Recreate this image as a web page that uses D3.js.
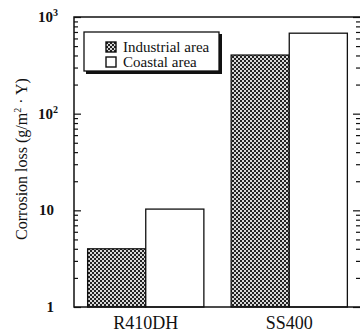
<!DOCTYPE html>
<html>
<head>
<meta charset="utf-8">
<script src="https://cdn.jsdelivr.net/npm/d3@7"></script>
<style>
  body { margin: 0; background: #fff; }
  svg text { font-family: "Liberation Serif", "Times New Roman", serif; }
</style>
</head>
<body>
<svg id="chart" width="360" height="332"></svg>
<script>
// --- data ---
const steels = ["R410DH", "SS400"];
const areas = ["Industrial area", "Coastal area"];
const industrialLoss = [4.0, 404];
const coastalLoss = [10.3, 680];
const majorTicks = [1, 10, 100, 1000];

// --- layout ---
const svg = d3.select("#chart");
const SERIF = "'Liberation Serif', 'Times New Roman', serif";
const x0 = 74, x1 = 362;
const yTop = 17, yBot = 307;

const x = d3.scaleBand().domain(steels).range([x0, x1 - 1]).paddingInner(0.19).paddingOuter(0.095);
const xs = d3.scaleBand().domain(areas).range([0, x.bandwidth()]);
const y = d3.scaleLog().domain([1, 1000]).range([yBot, yTop]);

// checker pattern for the industrial bars
const defs = svg.append("defs");
const pat = defs.append("pattern").attr("id", "checker")
  .attr("width", 4).attr("height", 4).attr("patternUnits", "userSpaceOnUse");
pat.append("rect").attr("width", 4).attr("height", 4).attr("fill", "#d8d8d8");
pat.append("rect").attr("width", 2).attr("height", 2).attr("fill", "#222");
pat.append("rect").attr("x", 2).attr("y", 2).attr("width", 2).attr("height", 2).attr("fill", "#222");

// bars
const rows = steels.map((s, i) => ({ steel: s, vals: [industrialLoss[i], coastalLoss[i]] }));
const g = svg.append("g");
rows.forEach(r => {
  r.vals.forEach((v, j) => {
    g.append("rect")
      .attr("x", x(r.steel) + xs(areas[j]))
      .attr("y", y(v))
      .attr("width", xs.bandwidth())
      .attr("height", y(1) - y(v))
      .attr("fill", j === 0 ? "url(#checker)" : "#fff")
      .attr("stroke", "#111")
      .attr("stroke-width", 1.3);
  });
});

// frame
svg.append("rect").attr("x", x0).attr("y", yTop).attr("width", x1 - x0).attr("height", yBot - yTop)
  .attr("fill", "none").attr("stroke", "#111").attr("stroke-width", 1.5);

// ticks (inward, left and right)
const minor = [];
for (let d = 1; d < 1000; d *= 10) for (let k = 2; k <= 9; k++) minor.push(d * k);
const leftAxis = d3.axisRight(y).tickValues(majorTicks).tickSize(7).tickFormat("");
const leftMinor = d3.axisRight(y).tickValues(minor).tickSize(4).tickFormat("");
[leftAxis, leftMinor].forEach(ax => {
  const a = svg.append("g").attr("transform", `translate(${x0},0)`).call(ax);
  a.select(".domain").remove();
  a.selectAll("line").attr("stroke", "#111").attr("stroke-width", 1.2);
});
const rightAxis = d3.axisLeft(y).tickValues(majorTicks).tickSize(9).tickFormat("");
const rightMinor = d3.axisLeft(y).tickValues(minor).tickSize(6).tickFormat("");
[rightAxis, rightMinor].forEach(ax => {
  const a = svg.append("g").attr("transform", `translate(${x1},0)`).call(ax);
  a.select(".domain").remove();
  a.selectAll("line").attr("stroke", "#111").attr("stroke-width", 1.2);
});

// y tick labels
const exps = { 1: null, 10: null, 100: "2", 1000: "3" };
majorTicks.forEach(t => {
  const txt = svg.append("text").attr("x", exps[t] ? 58 : 54).attr("y", y(t) + 5)
    .attr("font-family", SERIF)
    .attr("text-anchor", "end").attr("font-size", 15).attr("font-weight", "bold").attr("fill", "#111");
  if (exps[t]) {
    txt.append("tspan").text("10");
    txt.append("tspan").attr("dy", -6).attr("font-size", 10).text(exps[t]);
  } else {
    txt.text(t);
  }
});

// x labels
steels.forEach(s => {
  svg.append("text").attr("x", x(s) + x.bandwidth() / 2).attr("y", 329)
    .attr("font-family", SERIF)
    .attr("text-anchor", "middle").attr("font-size", 18).attr("fill", "#111").text(s);
});

// y title
const yt = svg.append("text").attr("transform", `translate(27,${(yTop + yBot) / 2 - 3}) rotate(-90)`)
  .attr("font-family", SERIF)
  .attr("text-anchor", "middle").attr("font-size", 16).attr("fill", "#111");
yt.append("tspan").text("Corrosion loss (g/m");
yt.append("tspan").attr("dy", -6).attr("font-size", 10).text("2");
yt.append("tspan").attr("dy", 6).text(" · Y)");

// legend
const lg = svg.append("g");
lg.append("rect").attr("x", 86).attr("y", 34).attr("width", 136).attr("height", 40).attr("fill", "#111");
lg.append("rect").attr("x", 84).attr("y", 32).attr("width", 135).attr("height", 39)
  .attr("fill", "#fff").attr("stroke", "#111").attr("stroke-width", 1.3);
areas.forEach((a, i) => {
  const yy = 47 + i * 15;
  lg.append("rect").attr("x", 106).attr("y", yy - 5).attr("width", 10).attr("height", 10)
    .attr("fill", i === 0 ? "url(#checker)" : "#fff").attr("stroke", "#111").attr("stroke-width", 1.4);
  lg.append("text").attr("x", 123).attr("y", yy + 5).attr("font-family", SERIF)
    .attr("font-size", 15).attr("fill", "#111").text(a);
});
</script>
</body>
</html>
